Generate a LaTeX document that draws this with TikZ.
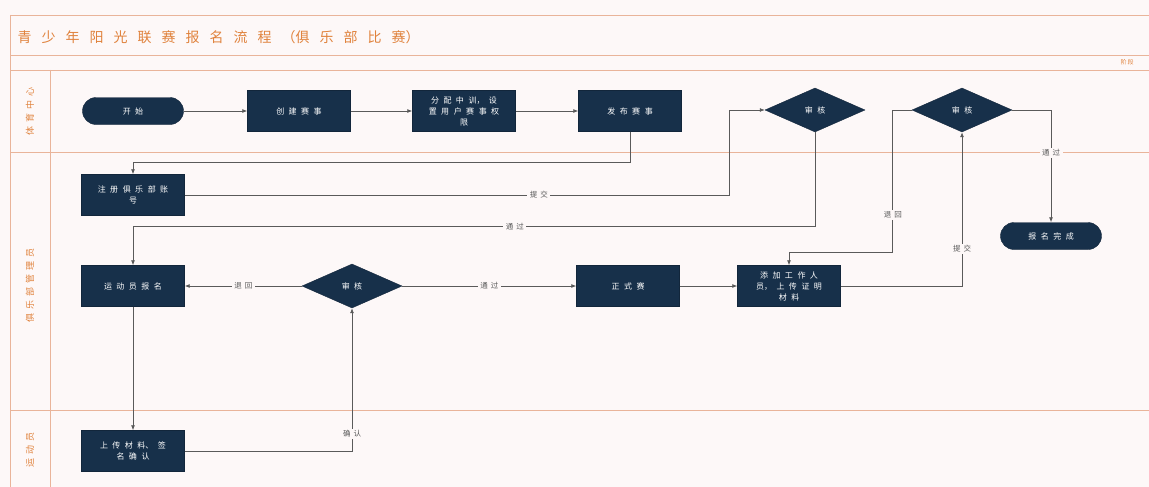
\documentclass[tikz,border=0pt]{standalone}
\usepackage{fontspec}
\usetikzlibrary{shapes.geometric,arrows.meta}
\setmainfont{Noto Sans CJK SC}
\XeTeXlinebreaklocale "zh"
\XeTeXlinebreakskip=0pt plus 1pt
\newcommand{\cjkgap}[1]{\XeTeXlinebreakskip=#1\relax}
\definecolor{navy}{HTML}{17304A}
\definecolor{lanec}{HTML}{E9B49A}
\definecolor{orangetxt}{HTML}{E0823C}
\definecolor{linec}{HTML}{5A5A5A}
\definecolor{bgc}{HTML}{FDF8F8}
\tikzset{
  proc/.style={rectangle, fill=navy, draw=navy!80!black, minimum width=103pt, minimum height=41pt,
    text width=95pt, align=center, text=white, inner sep=1pt, font=\fontsize{8}{11}\selectfont\cjkgap{4.5pt}},
  term/.style={rectangle, rounded corners=13.5pt, fill=navy, draw=navy!80!black, minimum width=101pt, minimum height=27pt,
    text width=95pt, align=center, text=white, inner sep=1pt, font=\fontsize{8}{10}\selectfont\cjkgap{4.5pt}},
  dec/.style={diamond, fill=navy, draw=navy!80!black, minimum width=100pt, minimum height=44pt,
    text width=30pt, align=center, text=white, inner sep=0pt, font=\fontsize{8}{10}\selectfont\cjkgap{4.5pt}},
  conn/.style={draw=linec, line width=0.8pt, -{Latex[length=5pt,width=4pt]}},
  lbl/.style={fill=bgc, text=linec, inner sep=1.5pt, text width=20pt, align=center, font=\fontsize{7.5}{9}\selectfont\cjkgap{3pt}},
  laneline/.style={draw=lanec, line width=0.9pt},
  lanelbl/.style={text=orangetxt, rotate=90, text width=100pt, align=center, font=\fontsize{9}{10}\selectfont\cjkgap{4pt}}
}
\begin{document}
\begin{tikzpicture}[x=1pt,y=-1pt]
\useasboundingbox (0,0) rectangle (1149,487);
\fill[bgc] (0,0) rectangle (1149,487);
% frame and lanes
\draw[laneline] (10,15) -- (1149,15);
\draw[laneline] (10,15) -- (10,487);
\draw[laneline] (10,55) -- (1149,55);
\draw[laneline] (10,70) -- (1149,70);
\draw[laneline] (50,70) -- (50,487);
\draw[laneline] (10,152) -- (1149,152);
\draw[laneline] (10,410) -- (1149,410);
\node[anchor=west, text=orangetxt, text width=600pt, align=left, font=\fontsize{14}{15}\selectfont\cjkgap{10pt}] (title) at (14,37) {青少年阳光联赛报名流程（俱乐部比赛）};
\node[text=orangetxt, text width=20pt, align=center, font=\fontsize{6}{7}\selectfont\cjkgap{1pt}] (stage) at (1127,62) {阶段};
\node[lanelbl] (l1) at (30,111) {体育中心};
\node[lanelbl] (l2) at (30,285) {俱乐部管理员};
\node[lanelbl] (l3) at (30,450) {运动员};
% nodes
\node[term] (start) at (133,111) {开始};
\node[proc] (cj) at (299,111) {创建赛事};
\node[proc] (fp) at (464,111) {分配中训，设\\置用户赛事权\\限};
\node[proc] (fb) at (630,111) {发布赛事};
\node[dec] (sh1) at (815,110) {审核};
\node[dec] (sh2) at (962,110) {审核};
\node[proc] (zc) at (133,195) {注册俱乐部账\\号};
\node[proc] (ydy) at (133,286) {运动员报名};
\node[dec] (sh3) at (352,286) {审核};
\node[proc] (zs) at (628,286) {正式赛};
\node[proc] (tj) at (789,286) {添加工作人\\员，上传证明\\材料};
\node[term] (wc) at (1051,236) {报名完成};
\node[proc] (sc) at (133,451) {上传材料、签\\名确认};
% connectors
\draw[conn] (start) -- (cj);
\draw[conn] (cj) -- (fp);
\draw[conn] (fp) -- (fb);
\draw[conn] (fb.south) -- ++(0,31) -| (zc.north);
\draw[conn] (zc.east) -- node[lbl, pos=0.65] {提交} ++(545,0) |- (sh1.west);
\draw[conn] (sh1.south) -- ++(0,94) -| node[lbl, pos=0.22] {通过} (ydy.north);
\draw[conn] (ydy.south) -- (sc.north);
\draw[conn] (sc.east) -| node[lbl, pos=0.56] {确认} (sh3.south);
\draw[conn] (sh3.west) -- node[lbl] {退回} (ydy.east);
\draw[conn] (sh3.east) -- node[lbl] {通过} (zs.west);
\draw[conn] (zs.east) -- (tj.west);
\draw[conn] (tj.east) -| node[lbl, pos=0.62] {提交} (sh2.south);
\draw[conn] (sh2.west) -- ++(-19,0) -- node[lbl, pos=0.74] {退回} ++(0,142) -| (tj.north);
\draw[conn] (sh2.east) -| node[lbl, pos=0.69] {通过} (wc.north);
\end{tikzpicture}
\end{document}
